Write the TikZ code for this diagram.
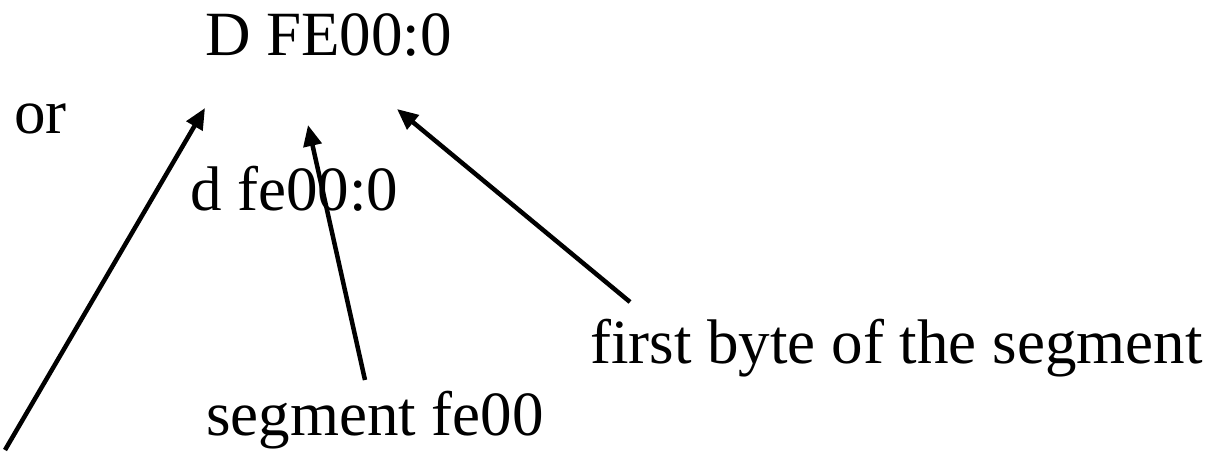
\documentclass[tikz,border=0pt]{standalone}
\usepackage{fontspec}
\setmainfont{Liberation Serif}
\usetikzlibrary{arrows.meta}
\begin{document}
\begin{tikzpicture}[x=1pt,y=-1pt,
  lbl/.style={anchor=base west,inner sep=0pt,font=\fontsize{63}{70}\selectfont},
  pointer/.style={line width=4.5pt,-{Triangle[length=21pt,width=18pt]}}]
\useasboundingbox (0,0) rectangle (1220,453);
% command and labels
\node[lbl] (cmd) at (205,55) {D FE00:0};
\node[lbl] (or) at (14,133) {or};
\node[lbl] (cmdlc) at (190,210) {d fe00:0};
\node[lbl] (first) at (590,363) {first byte of the segment};
\node[lbl] (seg) at (206,435) {segment fe00};
% pointer ends
\coordinate (t1) at (5,450);
\coordinate (h1) at (205,108);
\coordinate (t2) at (365,380);
\coordinate (h2) at (308,125);
\coordinate (t3) at (630,302);
\coordinate (h3) at (397,109);
\draw[pointer] (t1) -- (h1);
\draw[pointer] (t2) -- (h2);
\draw[pointer] (t3) -- (h3);
\end{tikzpicture}
\end{document}
